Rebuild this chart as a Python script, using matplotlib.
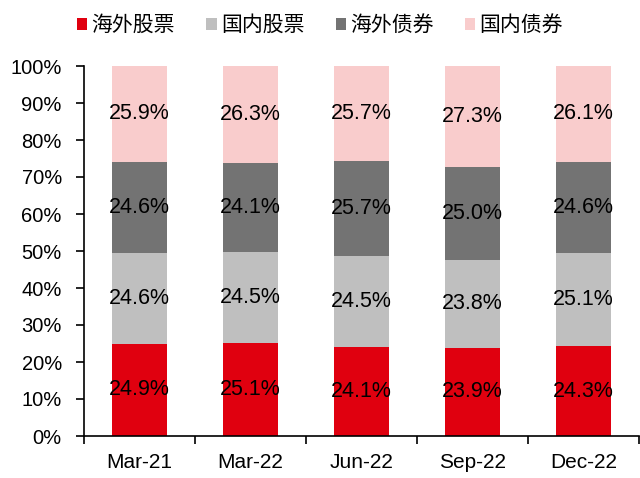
import matplotlib
matplotlib.use("Agg")
import matplotlib.pyplot as plt
import numpy as np

categories = ["Mar-21", "Mar-22", "Jun-22", "Sep-22", "Dec-22"]
series_names = ["海外股票", "国内股票", "海外债券", "国内债券"]
overseas_equity = [24.9, 25.1, 24.1, 23.9, 24.3]
domestic_equity = [24.6, 24.5, 24.5, 23.8, 25.1]
overseas_bond = [24.6, 24.1, 25.7, 25.0, 24.6]
domestic_bond = [25.9, 26.3, 25.7, 27.3, 26.1]
colors = ["#E0000F", "#BFBFBF", "#737373", "#F9CCCC"]

plt.rcParams['font.family'] = ['Liberation Sans', 'Noto Sans CJK SC', 'DejaVu Sans']

fig = plt.figure(figsize=(6.4, 4.78), dpi=100)
ax = fig.add_axes([84/640, 1-436/478, (639-84)/640, (436-66)/478])

x = np.arange(len(categories))
bottom = np.zeros(len(categories))
data = [overseas_equity, domestic_equity, overseas_bond, domestic_bond]
handles = []
for name, vals, c in zip(series_names, data, colors):
    v = np.array(vals) / 100.0
    b = ax.bar(x, v, 0.5, bottom=bottom, color=c, label=name)
    handles.append(b)
    for xi, bi, vi, raw in zip(x, bottom, v, vals):
        ax.text(xi, bi + vi / 2, f"{raw:.1f}%", ha="center", va="center",
                fontsize=15.5, color="black")
    bottom = bottom + v

ax.set_xlim(-0.5, len(categories) - 0.5)
ax.set_ylim(0, 1)
ax.set_yticks(np.arange(0, 1.01, 0.1))
ax.set_yticklabels([f"{int(round(t*100))}%" for t in np.arange(0, 1.01, 0.1)], fontsize=14.5)
ax.set_xticks(x)
ax.set_xticklabels(categories, fontsize=15)
ax.tick_params(axis='x', length=0, pad=12)
ax.set_xticks(np.arange(-0.5, len(categories), 1.0), minor=True)
ax.tick_params(axis='x', which='minor', length=6, width=1.2, direction='out')
ax.tick_params(axis='y', length=6, width=1.2, direction='out', pad=10)
for s in ["top", "right"]:
    ax.spines[s].set_visible(False)
ax.spines["left"].set_linewidth(1.2)
ax.spines["bottom"].set_linewidth(1.2)

fig.legend(handles=handles, labels=series_names, loc="center", bbox_to_anchor=(0.5, 1-25/478),
           ncol=4, frameon=False, handlelength=0.5, handleheight=0.5, handletextpad=0.2,
           columnspacing=1.5, prop={'family': ['Noto Sans CJK SC', 'DejaVu Sans'], 'size': 15})

fig.savefig("out.png", dpi=100)
